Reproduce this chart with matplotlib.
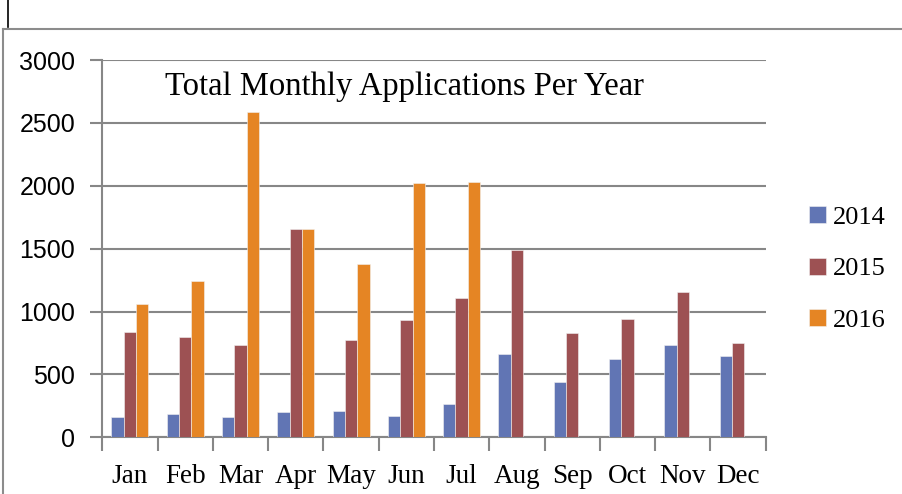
import numpy as np
import matplotlib.pyplot as plt
from matplotlib.lines import Line2D

plt.rcParams['font.family'] = ['Liberation Serif', 'DejaVu Serif']

months = ['Jan', 'Feb', 'Mar', 'Apr', 'May', 'Jun',
          'Jul', 'Aug', 'Sep', 'Oct', 'Nov', 'Dec']
years = ['2014', '2015', '2016']
apps_2014 = [159, 186, 162, 201, 207, 170, 263, 661, 443, 626, 735, 650]
apps_2015 = [840, 801, 732, 1658, 772, 931, 1111, 1493, 833, 939, 1154, 753]
apps_2016 = [1061, 1241, 2586, 1658, 1377, 2024, 2032,
             np.nan, np.nan, np.nan, np.nan, np.nan]
colors = ['#6175B4', '#9D5153', '#E58524']
grid_col = '#878787'

W, H = 903, 494
fig = plt.figure(figsize=(W / 100, H / 100), dpi=100)

# plot area in pixel coords
x0, x1, ytop, ybot = 102.3, 765.7, 60, 437.3
ax = fig.add_axes([x0 / W, 1 - ybot / H, (x1 - x0) / W, (ybot - ytop) / H])

x = np.arange(len(months))
bw = 0.223
series = [apps_2014, apps_2015, apps_2016]
for i, (vals, c) in enumerate(zip(series, colors)):
    ax.bar(x + (i - 1) * bw, vals, bw, color=c, edgecolor='#f2f2f2',
           linewidth=0.4, label=years[i], zorder=3)

ax.set_xlim(-0.5, len(months) - 0.5)
ax.set_ylim(0, 3000)
ax.set_yticks(np.arange(0, 3001, 500))
ax.yaxis.grid(True, color=grid_col, linewidth=1.5, zorder=0)
ax.tick_params(axis='y', length=9, width=1.5, color=grid_col, pad=10.5)
for lab in ax.get_yticklabels():
    lab.set_family(['Liberation Sans Narrow', 'Liberation Sans', 'DejaVu Sans'])
    lab.set_fontsize(18)
ax.set_xticks(np.arange(-0.5, len(months), 1))
ax.set_xticklabels([])
ax.tick_params(axis='x', length=10, width=1.5, color=grid_col)
ax.set_xticks(x, minor=True)
ax.set_xticklabels(months, minor=True, fontsize=19.5)
ax.tick_params(axis='x', which='minor', length=0, pad=19)

for s in ['top', 'right']:
    ax.spines[s].set_visible(False)
for s in ['left', 'bottom']:
    ax.spines[s].set_color(grid_col)
    ax.spines[s].set_linewidth(1.5)

ax.text(0.455, 0.93, 'Total Monthly Applications Per Year',
        transform=ax.transAxes, ha='center', va='center', fontsize=23.5)

leg = fig.legend(loc='center left', bbox_to_anchor=(809 / W, 1 - 269 / H),
                 frameon=False, fontsize=19, labelspacing=1.08, borderpad=0,
                 borderaxespad=0, handlelength=0.63, handleheight=0.63,
                 handletextpad=0.27)

# chart area border and stray cursor mark
fig.add_artist(Line2D([3 / W, 1], [1 - 29 / H, 1 - 29 / H], color='#8c8c8c',
                      linewidth=1.5))
fig.add_artist(Line2D([3 / W, 3 / W], [0, 1 - 29 / H], color='#8c8c8c',
                      linewidth=1.5))
fig.add_artist(Line2D([7.5 / W, 7.5 / W], [1 - 27 / H, 1], color='black',
                      linewidth=1.2))

fig.savefig('out.png', dpi=100)
